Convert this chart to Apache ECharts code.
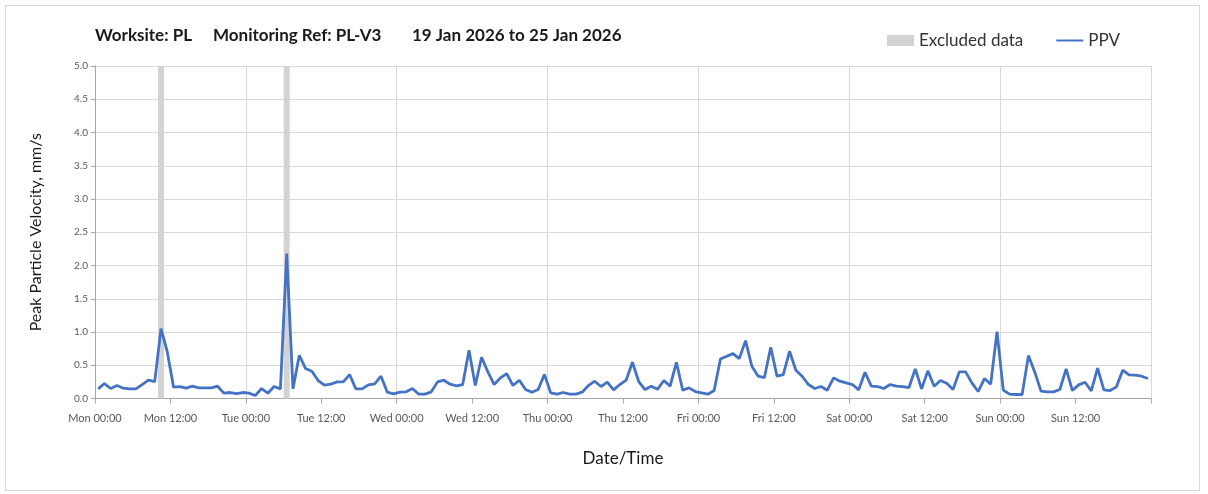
<!DOCTYPE html>
<html>
<head>
<meta charset="utf-8">
<script src="https://cdn.jsdelivr.net/npm/echarts@6/dist/echarts.min.js"></script>
<style>
html,body{margin:0;padding:0;background:#fff;}
#frame{position:absolute;left:5px;top:5px;width:1195px;height:486px;border:1px solid #d9d9d9;box-sizing:border-box;}
#chart{position:absolute;left:0;top:0;width:1208px;height:494px;}
</style>
</head>
<body>
<div id="frame"></div>
<div id="chart"></div>
<script>
// hourly PPV values (mm/s), Mon 00:00 .. Sun 23:00 (one per hour)
const ppv = [
  0.145,0.225,0.15,0.195,0.155,0.145,0.145,0.21,0.275,0.255,
  1.05,0.70,0.17,0.18,0.155,0.185,0.16,0.16,0.16,0.185,
  0.08,0.09,0.075,0.09,0.08,0.045,0.15,0.08,0.18,0.145,
  2.18,0.145,0.65,0.45,0.41,0.27,0.20,0.215,0.25,0.25,
  0.36,0.145,0.145,0.205,0.22,0.335,0.095,0.07,0.095,0.10,
  0.15,0.065,0.065,0.10,0.25,0.275,0.215,0.19,0.21,0.725,
  0.195,0.62,0.40,0.21,0.31,0.375,0.195,0.275,0.135,0.095,
  0.135,0.36,0.085,0.065,0.09,0.065,0.065,0.095,0.195,0.26,
  0.18,0.245,0.13,0.21,0.275,0.545,0.255,0.135,0.185,0.14,
  0.27,0.185,0.545,0.125,0.16,0.105,0.085,0.065,0.12,0.595,
  0.635,0.675,0.60,0.87,0.485,0.335,0.315,0.77,0.335,0.36,
  0.71,0.425,0.335,0.21,0.15,0.18,0.125,0.31,0.26,0.235,
  0.21,0.13,0.395,0.185,0.18,0.15,0.21,0.185,0.18,0.165,
  0.445,0.145,0.415,0.185,0.27,0.23,0.135,0.40,0.40,0.235,
  0.105,0.30,0.215,1.005,0.125,0.065,0.06,0.06,0.645,0.40,
  0.11,0.10,0.10,0.135,0.445,0.12,0.205,0.245,0.115,0.455,
  0.13,0.12,0.175,0.425,0.355,0.35,0.335,0.30
];
// hours (index) whose data was excluded
const excludedHours = [10, 30];
const dayNames = ['Mon','Tue','Wed','Thu','Fri','Sat','Sun'];
const halfDayLabels = ['00:00','12:00'];

const lineData = ppv.map((v,i)=>[i+0.5, v]);
const barData = excludedHours.map(h=>[h+0.5, 5]);

const FONT = 'Lato';
const titleStyle = {fontFamily:FONT,fontSize:17,fontWeight:'bold',color:'#1a1a1a'};
const chart = echarts.init(document.getElementById('chart'), null, {renderer:'canvas'});
chart.setOption({
  animation:false,
  backgroundColor:'transparent',
  textStyle:{fontFamily:FONT},
  title:[
    {text:'Worksite: PL', left:95, top:27, padding:0, textStyle:titleStyle},
    {text:'Monitoring Ref: PL-V3', left:213, top:27, padding:0, textStyle:titleStyle},
    {text:'19 Jan 2026 to 25 Jan 2026', left:412, top:27, padding:0, textStyle:titleStyle}
  ],
  legend:{
    left:887, top:32, padding:0, itemGap:32, itemWidth:27, itemHeight:11,
    textStyle:{fontFamily:FONT,fontSize:17,color:'#333'},
    data:[{name:'Excluded data', icon:'rect'}, {name:'PPV', itemStyle:{opacity:0}}]
  },
  grid:{left:95, top:66, width:1056, height:332.5, containLabel:false},
  xAxis:[{
    type:'value', min:0, max:168, interval:12,
    name:'Date/Time', nameLocation:'middle', nameGap:52,
    nameTextStyle:{fontFamily:FONT,fontSize:17,color:'#1a1a1a'},
    axisLine:{show:true,lineStyle:{color:'#a6a6a6',width:1}},
    axisTick:{show:true,length:5,lineStyle:{color:'#a6a6a6'}},
    splitLine:{show:false},
    axisLabel:{fontFamily:FONT,fontSize:11,color:'#595959',margin:14,showMaxLabel:true,
      formatter:function(v){ const k=Math.round(v/12); if(k>=14) return ''; return dayNames[Math.floor(k/2)]+' '+halfDayLabels[k%2]; }}
  },{
    type:'value', min:0, max:168, interval:24, position:'bottom',
    axisLine:{show:false}, axisTick:{show:false}, axisLabel:{show:false},
    splitLine:{show:true,lineStyle:{color:'#d9d9d9',width:1}}
  }],
  yAxis:{
    type:'value', min:0, max:5, interval:0.5,
    name:'Peak Particle Velocity, mm/s', nameLocation:'middle', nameGap:51, nameRotate:90,
    nameTextStyle:{fontFamily:FONT,fontSize:16,color:'#1a1a1a'},
    axisLine:{show:true,lineStyle:{color:'#a6a6a6',width:1}},
    axisTick:{show:true,length:4,lineStyle:{color:'#a6a6a6'}},
    splitLine:{show:true,lineStyle:{color:'#d9d9d9',width:1}},
    axisLabel:{fontFamily:FONT,fontSize:10,color:'#595959',margin:7,formatter:v=>v.toFixed(1)}
  },
  series:[
    {name:'Excluded data', type:'bar', xAxisIndex:0, data:barData, barWidth:6,
      itemStyle:{color:'#d3d3d3'}, z:1, silent:true},
    {name:'PPV', type:'line', xAxisIndex:0, data:lineData, symbol:'none',
      lineStyle:{color:'#4472c4',width:2.8}, itemStyle:{color:'#4472c4'}, z:3}
  ]
});
</script>
</body>
</html>
